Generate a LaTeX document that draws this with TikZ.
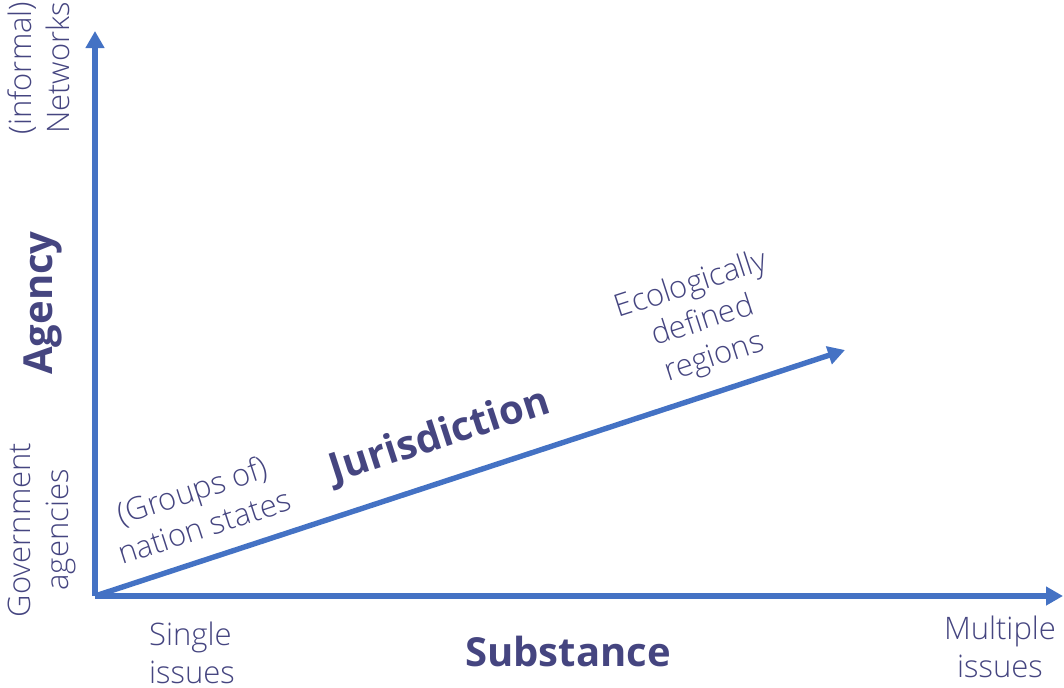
\documentclass[tikz,border=0pt]{standalone}
\usepackage{fontspec}
\setmainfont{Open Sans}[UprightFont={* Light}, BoldFont={* Bold}]
\usepackage{tikz}
\usetikzlibrary{arrows.meta}
\definecolor{axisblue}{RGB}{68,114,196}
\definecolor{labelink}{RGB}{69,69,128}
\tikzstyle{axis} = [line width=2.7pt,axisblue,-{Triangle[length=8.5pt,width=9pt]}]
\tikzstyle{endlabel} = [labelink, font=\fontsize{15.5}{19}\selectfont, inner sep=0pt]
\tikzstyle{axislabel} = [labelink, font=\fontsize{20}{24}\selectfont\bfseries, inner sep=0pt]

\begin{document}
\begin{tikzpicture}[x=0.5pt,y=-0.5pt]
    \useasboundingbox (0,0) rectangle (1064,687);
    \coordinate (origin) at (95,596);
    \coordinate (agency_end) at (95,31);
    \coordinate (substance_end) at (1063,596);
    \coordinate (jurisdiction_end) at (845,350);

    \draw [axis] (origin) -- (agency_end);
    \draw [axis] (origin) -- (substance_end);
    \draw [axis] (origin) -- (jurisdiction_end);

    \node (networks) [endlabel, rotate=90, align=center] at (39,68) {(informal)\\Networks};
    \node (agency) [axislabel, rotate=90] at (43,303) {Agency};
    \node (government) [endlabel, rotate=90, align=center] at (42,530) {Government\\agencies};

    \node (nation_states) [endlabel, rotate=18, align=center] at (198,508) {(Groups of)\\nation states};
    \node (jurisdiction) [axislabel, rotate=18] at (440,437) {Jurisdiction};
    \node (ecological) [endlabel, rotate=18, align=center] at (703,322) {Ecologically\\defined\\regions};

    \node (single) [endlabel, align=left] at (192,653) {Single\\issues};
    \node (substance) [axislabel] at (568,651) {Substance};
    \node (multiple) [endlabel, align=center] at (1000,647) {Multiple\\issues};
\end{tikzpicture}
\end{document}
